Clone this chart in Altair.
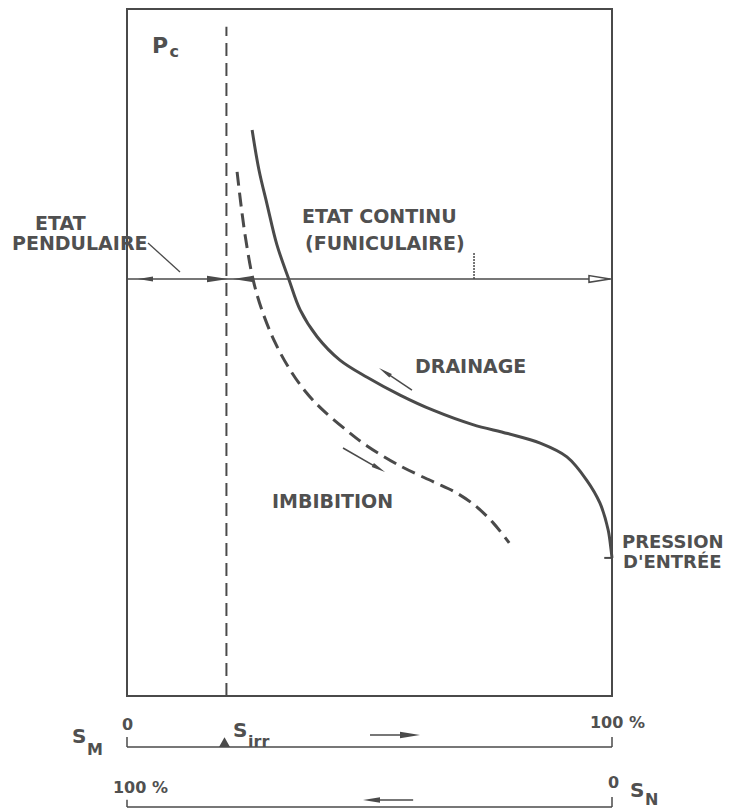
import altair as alt
import pandas as pd

# ---- data (S_M in %, Pc in arbitrary units 0..100) ----
DRAIN_S = [25.8, 27.2, 28.9, 30.9, 33.4, 35.7, 39.2, 43.9, 49.5, 56.3, 63.1, 71.3, 78.5, 85.2, 90.7, 94.8, 97.5, 99.2, 99.8, 100.0]
DRAIN_P = [82.4, 76.6, 71.5, 65.7, 60.6, 56.2, 52.3, 48.9, 46.4, 43.8, 41.6, 39.5, 38.2, 36.8, 34.8, 31.4, 28.1, 24.2, 21.3, 20.1]

IMB_S = [22.7, 23.5, 24.5, 26.0, 27.8, 30.5, 33.6, 36.7, 40.4, 45.4, 49.5, 56.3, 63.1, 67.6, 71.8, 75.5, 78.8]
IMB_P = [76.3, 71.5, 66.4, 60.6, 56.2, 51.5, 47.5, 44.4, 41.6, 38.6, 36.4, 33.5, 31.2, 29.7, 27.7, 25.2, 22.3]

S_IRR = 20.5      # irreducible saturation
P_STATE = 60.7    # pendular / funicular limit
P_ENTRY = 20.1    # entry pressure
P_TOP = 97.4
SM_LINE = -7.42   # position of the S_M scale under the box
SN_LINE = -16.16  # position of the S_N scale

# plain segments: x, y, x2, y2, width
SEG_X1 = [0, 0, 0, 100, 0, 0, 100, 98.4, 50.1, 50.4, 58.76, 44.54, 4.33]
SEG_Y1 = [P_STATE, SM_LINE, SM_LINE, SM_LINE, SN_LINE, SN_LINE, SN_LINE, P_ENTRY, -5.68, -15.14, 44.54, 36.10, 65.94]
SEG_X2 = [100, 100, 0, 100, 100, 0, 100, 100, 56.5, 59.0, 53.15, 51.94, 10.93]
SEG_Y2 = [P_STATE, SM_LINE, -5.97, -5.97, SN_LINE, -15.1, -14.7, P_ENTRY, -5.68, -15.14, 47.18, 33.11, 61.72]
SEG_W = [1.5, 1.5, 1.5, 1.5, 1.5, 1.5, 1.5, 2, 1.5, 1.5, 1.5, 1.5, 1.3]

# arrow heads (filled)
ARROW = "M0,-1L0.32,1L-0.32,1Z"
TRI = "M0,-0.9L1,0.9L-1,0.9Z"
HEAD_X = [3.81, 18.66, 23.81, 53.15, 51.94, 58.35, 50.41, S_IRR - 0.4]
HEAD_Y = [P_STATE, P_STATE, P_STATE, 47.18, 33.11, -5.68, -15.14, -6.71]
HEAD_SIZE = [225, 441, 361, 196, 196, 400, 289, 121]
HEAD_ANGLE = [270, 90, 270, 303.7, 119.7, 90, 270, 0]
HEAD_SHAPE = [ARROW, ARROW, ARROW, ARROW, ARROW, ARROW, ARROW, TRI]

# labels
LABEL_T = ["ETAT", "PENDULAIRE", "ETAT CONTINU", "(FUNICULAIRE)", "DRAINAGE", "IMBIBITION",
           "PRESSION", "D'ENTRÉE", "P", "c",
           "0", "100 %", "100 %", "0", "S", "M", "S", "irr", "S", "N"]
LABEL_X = [-18.97, -23.71, 36.08, 36.70, 59.38, 29.90,
           102.06, 102.27, 5.15, 8.75,
           -1.03, 95.46, -2.89, 99.18, -11.34, -8.25, 21.86, 24.95, 103.71, 106.80]
LABEL_Y = [67.83, 64.92, 68.85, 64.92, 47.02, 27.37,
           21.54, 18.63, 93.60, 93.0,
           -4.95, -4.66, -14.12, -13.39, -6.84, -8.59, -5.97, -7.42, -14.7, -15.8]
LABEL_FS = [19, 19, 19, 19, 19, 19,
            18, 18, 22, 16,
            16, 16, 16, 16, 20, 16, 20, 16, 20, 16]

INK = "#4a4a4a"
FONT = "DejaVu Sans"

XS = alt.Scale(domain=[0, 100], nice=False, zero=False)
YS = alt.Scale(domain=[0, 100], nice=False, zero=False)


def xy(xf="x", yf="y"):
    return dict(x=alt.X(f"{xf}:Q", scale=XS, axis=None),
                y=alt.Y(f"{yf}:Q", scale=YS, axis=None))


drain = pd.DataFrame({"x": DRAIN_S, "y": DRAIN_P, "i": range(len(DRAIN_S))})
imb = pd.DataFrame({"x": IMB_S, "y": IMB_P, "i": range(len(IMB_S))})

drain_line = alt.Chart(drain).mark_line(color=INK, strokeWidth=3, interpolate="catmull-rom").encode(
    **xy(), order="i:O")
imb_line = alt.Chart(imb).mark_line(color=INK, strokeWidth=3, strokeDash=[14, 7],
                                     interpolate="catmull-rom").encode(**xy(), order="i:O")

segs = pd.DataFrame({"x": SEG_X1, "y": SEG_Y1, "x2": SEG_X2, "y2": SEG_Y2, "w": SEG_W})
seg_rules = alt.Chart(segs).mark_rule(color=INK).encode(
    **xy(), x2="x2:Q", y2="y2:Q", strokeWidth=alt.StrokeWidth("w:Q", scale=None))

irr = pd.DataFrame({"x": [S_IRR], "y": [0], "y2": [P_TOP]})
irr_rule = alt.Chart(irr).mark_rule(color=INK, strokeWidth=2, strokeDash=[13, 7]).encode(
    **xy(), y2="y2:Q")

fun = pd.DataFrame({"x": [71.55], "y": [64.48], "y2": [P_STATE]})
fun_rule = alt.Chart(fun).mark_rule(color=INK, strokeWidth=1.5, strokeDash=[2, 1]).encode(
    **xy(), y2="y2:Q")

heads = pd.DataFrame({"x": HEAD_X, "y": HEAD_Y, "s": HEAD_SIZE, "a": HEAD_ANGLE, "sh": HEAD_SHAPE})
head_pts = alt.Chart(heads).mark_point(filled=True, color=INK, opacity=1).encode(
    **xy(), size=alt.Size("s:Q", scale=None), angle=alt.Angle("a:Q", scale=None),
    shape=alt.Shape("sh:N", scale=None))

hollow = pd.DataFrame({"x": [97.42], "y": [P_STATE]})
hollow_pt = alt.Chart(hollow).mark_point(shape=ARROW, angle=90, size=441, fill="white",
                                         stroke=INK, strokeWidth=1.5, opacity=1).encode(**xy())

labels = pd.DataFrame({"x": LABEL_X, "y": LABEL_Y, "t": LABEL_T, "fs": LABEL_FS})
text = alt.Chart(labels).mark_text(align="left", baseline="alphabetic", font=FONT,
                                   fontWeight="bold", color="#505050").encode(
    **xy(), text="t:N", size=alt.Size("fs:Q", scale=None))

chart = alt.layer(irr_rule, seg_rules, fun_rule, imb_line, drain_line, head_pts, hollow_pt, text).properties(
    width=485, height=687,
    padding={"left": 119, "top": 1, "right": 124, "bottom": 112},
    autosize=alt.AutoSizeParams(type="none"),
    background="white",
).configure_view(stroke=INK, strokeWidth=2)

chart.save("out.html", embed_options={"renderer": "svg", "actions": False})
